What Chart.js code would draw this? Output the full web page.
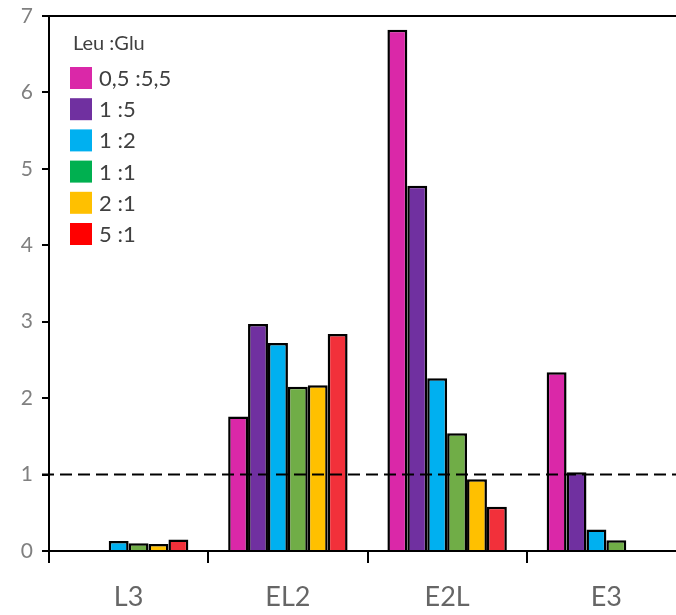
<!DOCTYPE html>
<html>
<head>
<meta charset="utf-8">
<script src="https://cdn.jsdelivr.net/npm/chart.js@4/dist/chart.umd.min.js"></script>
<style>
  html, body { margin: 0; padding: 0; overflow: hidden; background: #fff; }
  canvas { display: block; }
</style>
</head>
<body>
<canvas id="chart" width="690" height="615"></canvas>
<script>
'use strict';

// categories along x
var categories = ['L3', 'EL2', 'E2L', 'E3'];

// Leu:Glu ratios, one series each
var seriesLabels = ['0,5 :5,5', '1 :5', '1 :2', '1 :1', '2 :1', '5 :1'];
var ratio05to55 = [0, 1.76, 6.82, 2.34];
var ratio1to5   = [0, 2.97, 4.78, 1.03];
var ratio1to2   = [0.13, 2.72, 2.26, 0.28];
var ratio1to1   = [0.10, 2.15, 1.54, 0.14];
var ratio2to1   = [0.09, 2.17, 0.94, 0];
var ratio5to1   = [0.15, 2.84, 0.58, 0];

var legendTitle = 'Leu :Glu';
var yTicks = [0, 1, 2, 3, 4, 5, 6, 7];
var referenceLevel = 1;

var barColors    = ['#DA28A8', '#7030A0', '#00B0F0', '#70AD47', '#FFC000', '#F2303A'];
var legendColors = ['#DA28A8', '#7030A0', '#00B0F0', '#00B050', '#FFC000', '#FF0000'];

var FONT = 'Lato, "Open Sans", "Liberation Sans", sans-serif';

var series = [ratio05to55, ratio1to5, ratio1to2, ratio1to1, ratio2to1, ratio5to1];
var datasets = series.map(function(values, i) {
    return {
        label: seriesLabels[i],
        data: values,
        backgroundColor: barColors[i],
        borderColor: '#000',
        borderWidth: 2.5,
        borderSkipped: 'bottom'
    };
});

// dashed line at the reference level, over the bars
var refLine = {
    id: 'refLine',
    afterDatasetsDraw: function(chart) {
        var ctx = chart.ctx, area = chart.chartArea;
        var y = chart.scales.y.getPixelForValue(referenceLevel);
        ctx.save();
        ctx.strokeStyle = '#000';
        ctx.lineWidth = 2;
        ctx.setLineDash([12, 6]);
        ctx.beginPath();
        ctx.moveTo(area.left - 7, y);
        ctx.lineTo(area.right, y);
        ctx.stroke();
        ctx.restore();
    }
};

// legend drawn inside the plot, top left
var innerLegend = {
    id: 'innerLegend',
    afterDraw: function(chart) {
        var ctx = chart.ctx, area = chart.chartArea;
        var x = area.left + 21, y = area.top + 28;
        ctx.save();
        ctx.textBaseline = 'middle';
        ctx.textAlign = 'left';
        ctx.fillStyle = '#404040';
        ctx.font = '20px ' + FONT;
        ctx.fillText(legendTitle, x + 3, y);
        ctx.font = '22px ' + FONT;
        chart.data.datasets.forEach(function(ds, i) {
            var cy = y + 34 + i * 31.2;
            ctx.fillStyle = legendColors[i];
            ctx.fillRect(x, cy - 11, 22, 22);
            ctx.fillStyle = '#404040';
            ctx.fillText(ds.label, x + 29, cy + 1);
        });
        ctx.restore();
    }
};

new Chart(document.getElementById('chart'), {
    type: 'bar',
    data: { labels: categories, datasets: datasets },
    plugins: [refLine, innerLegend],
    options: {
        responsive: false,
        animation: false,
        layout: { padding: { top: 16, right: 4, left: 0, bottom: 0 } },
        datasets: { bar: { categoryPercentage: 0.75, barPercentage: 1 } },
        plugins: { legend: { display: false }, tooltip: { enabled: false } },
        scales: {
            x: {
                grid: { color: 'transparent', tickColor: '#000', tickLength: 12, lineWidth: 2, offset: true },
                border: { color: '#000', width: 2 },
                ticks: { color: '#666', font: { family: FONT, size: 27 }, padding: 18 },
                afterFit: function(s) { s.height = 64; }
            },
            y: {
                min: 0,
                max: 7,
                afterBuildTicks: function(s) { s.ticks = yTicks.map(function(v) { return { value: v }; }); },
                grid: {
                    color: function(c) { return c.tick && c.tick.value === 7 ? '#000' : 'transparent'; },
                    tickColor: '#000', tickLength: 7, lineWidth: 2
                },
                border: { color: '#000', width: 2 },
                ticks: { color: '#808080', font: { family: FONT, size: 21 }, padding: 9 },
                afterFit: function(s) {
                    s.width = 49;
                    s.paddingTop = 0;
                    s.paddingBottom = 0;
                }
            }
        }
    }
});
</script>
</body>
</html>
